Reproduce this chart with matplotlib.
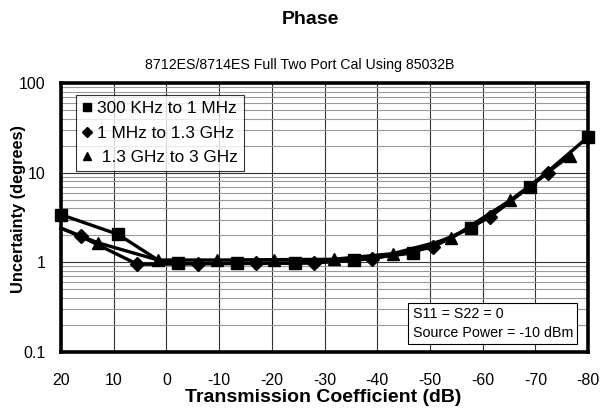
import matplotlib
matplotlib.use("Agg")
import matplotlib.pyplot as plt
from matplotlib.ticker import FixedLocator, LogLocator, NullFormatter

# transmission coefficient (dB) and phase uncertainty (degrees) per band
sq_x = [20, 9.2, 1.6, -2.2, -13.3, -24.4, -35.6, -46.7, -57.8, -68.9, -80]
sq_y = [3.4, 2.05, 1.06, 0.97, 0.98, 0.98, 1.05, 1.27, 2.4, 6.9, 25]
sq_marked = [0, 1, 3, 4, 5, 6, 7, 8, 9, 10]

dm_x = [20, 16.3, 5.5, -5.9, -17, -28, -39, -50.5, -61.4, -72.4]
dm_y = [2.4, 1.95, 0.95, 0.96, 0.97, 0.98, 1.1, 1.47, 3.2, 10]

tr_x = [20, 13, 1.6, -9.5, -20.5, -31.7, -43, -54, -65.2, -76.6]
tr_y = [2.4, 1.65, 1.06, 1.06, 1.07, 1.08, 1.25, 1.85, 4.9, 15.5]

series_labels = ["300 KHz to 1 MHz", "1 MHz to 1.3 GHz", " 1.3 GHz to 3 GHz"]
x_ticks = [20, 10, 0, -10, -20, -30, -40, -50, -60, -70, -80]
y_ticks = [0.1, 1, 10, 100]
y_tick_labels = ["0.1", "1", "10", "100"]

plt.rcParams["font.family"] = ["Liberation Sans", "DejaVu Sans"]

fig = plt.figure(figsize=(6.12, 4.15), dpi=100)
ax = fig.add_axes([0.0997, 0.152, 0.8613, 0.648])

ax.set_yscale("log")
ax.set_xlim(20, -80)
ax.set_ylim(0.1, 100)

ax.yaxis.set_minor_locator(LogLocator(base=10, subs=range(2, 10)))
ax.yaxis.set_minor_formatter(NullFormatter())
ax.xaxis.set_major_locator(FixedLocator(x_ticks))
ax.set_xticklabels([str(v) for v in x_ticks])
ax.set_yticks(y_ticks)
ax.set_yticklabels(y_tick_labels)
ax.tick_params(which="both", length=0, labelsize=11.5)
ax.tick_params(axis="y", pad=11)
ax.tick_params(axis="x", pad=15)

ax.grid(True, which="major", axis="both", color="#333333", linewidth=0.8)
ax.grid(True, which="minor", axis="y", color="#999999", linewidth=0.8)
ax.set_axisbelow(True)
for spine in ax.spines.values():
    spine.set_linewidth(2.6)
    spine.set_color("black")

line_kw = dict(color="black", linewidth=2.4, markersize=8, clip_on=False, zorder=3)
ax.plot(sq_x, sq_y, marker="s", markevery=sq_marked, label=series_labels[0], **line_kw)
ax.plot(dm_x, dm_y, marker="D", markevery=slice(1, None), label=series_labels[1],
        **{**line_kw, "markersize": 7})
ax.plot(tr_x, tr_y, marker="^", markevery=slice(1, None), label=series_labels[2], **line_kw)

# legend shows markers only
handles = [
    plt.Line2D([], [], color="black", marker="s", linestyle="none", markersize=6),
    plt.Line2D([], [], color="black", marker="D", linestyle="none", markersize=5),
    plt.Line2D([], [], color="black", marker="^", linestyle="none", markersize=6),
]
leg = ax.legend(handles, series_labels, loc="upper left", bbox_to_anchor=(0.028, 0.955),
                fontsize=12.4, frameon=True, fancybox=False, edgecolor="black",
                handlelength=0.6, handletextpad=0.3, borderpad=0.35, labelspacing=0.55,
                borderaxespad=0)
leg.get_frame().set_linewidth(0.8)

ax.text(0.667, 0.045, "S11 = S22 = 0\nSource Power = -10 dBm", transform=ax.transAxes,
        fontsize=10.3, linespacing=1.45, va="bottom", ha="left",
        bbox=dict(boxstyle="square,pad=0.3", facecolor="white", edgecolor="black", linewidth=0.8))

ax.set_xlabel("Transmission Coefficient (dB)", fontsize=14, fontweight="bold")
ax.xaxis.set_label_coords(0.498, -0.168)
ax.xaxis.label.set_va("center")
ax.set_ylabel("Uncertainty (degrees)", fontsize=11.8, fontweight="bold")
ax.yaxis.set_label_coords(-0.08, 0.53)
ax.yaxis.label.set_va("center")

fig.text(0.49, 0.843, "8712ES/8714ES Full Two Port Cal Using 85032B", ha="center",
         va="center", fontsize=10.2)
fig.text(0.508, 0.952, "Phase", ha="center", va="center", fontsize=14, fontweight="bold",
         family=["Liberation Sans Narrow", "Liberation Sans", "DejaVu Sans"])

fig.savefig("out.png", dpi=100)
